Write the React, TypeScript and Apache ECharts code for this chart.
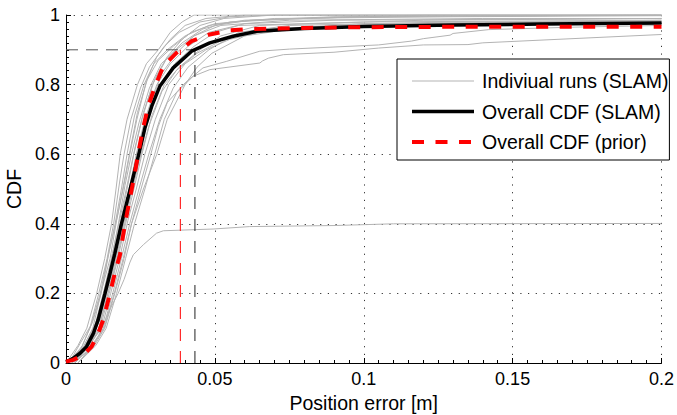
import React, { useEffect, useRef } from "react";
import * as echarts from "echarts";

// ---- axes ----
const xTicks = [0, 0.05, 0.1, 0.15, 0.2];
const yTicks = [0, 0.2, 0.4, 0.6, 0.8, 1];

// ---- overall CDFs ----
const slamX = [0, 0.0024, 0.0047, 0.0069, 0.0092, 0.0108, 0.0131, 0.0148, 0.0164, 0.0186, 0.0208, 0.023, 0.0252, 0.0265, 0.0288, 0.0315, 0.036, 0.0422, 0.0483, 0.0561, 0.064, 0.08, 0.1, 0.13, 0.16, 0.2];
const slamY = [0.003, 0.0135, 0.028, 0.047, 0.085, 0.124, 0.2, 0.258, 0.315, 0.399, 0.474, 0.55, 0.627, 0.675, 0.738, 0.795, 0.848, 0.896, 0.92, 0.939, 0.953, 0.961, 0.967, 0.971, 0.974, 0.977];

const priorX = [0, 0.0024, 0.0058, 0.0086, 0.0108, 0.0125, 0.0148, 0.0164, 0.0181, 0.0198, 0.0215, 0.0232, 0.0248, 0.0259, 0.0276, 0.0299, 0.0327, 0.0371, 0.0422, 0.0483, 0.055, 0.0629, 0.08, 0.1, 0.13, 0.16, 0.2];
const priorY = [0.004, 0.009, 0.023, 0.047, 0.085, 0.124, 0.2, 0.258, 0.31, 0.399, 0.474, 0.55, 0.627, 0.675, 0.738, 0.795, 0.853, 0.891, 0.925, 0.944, 0.956, 0.96, 0.963, 0.965, 0.966, 0.966, 0.966];

// ---- 90% markers ----
const level90 = 0.9;
const slam90 = 0.0433;
const prior90 = 0.0384;

// ---- individual runs (SLAM): [x, y] points ----
const run1 = [[0, 0], [0.004, 0.05], [0.007, 0.1], [0.0103, 0.2], [0.013, 0.3], [0.0153, 0.4], [0.0168, 0.5], [0.0182, 0.6], [0.0205, 0.7], [0.024, 0.8], [0.027, 0.86], [0.031, 0.9], [0.035, 0.95], [0.039, 0.98], [0.043, 1], [0.2, 1]];
const run2 = [[0, 0], [0.005, 0.04], [0.008, 0.1], [0.011, 0.2], [0.0138, 0.3], [0.016, 0.4], [0.018, 0.52], [0.0195, 0.6], [0.0218, 0.7], [0.025, 0.79], [0.028, 0.85], [0.033, 0.91], [0.038, 0.95], [0.045, 0.98], [0.055, 0.995], [0.07, 1], [0.2, 1]];
const run3 = [[0.001, 0], [0.005, 0.06], [0.0085, 0.11], [0.0115, 0.2], [0.0142, 0.31], [0.0165, 0.4], [0.0186, 0.5], [0.0205, 0.6], [0.023, 0.71], [0.0262, 0.8], [0.0295, 0.86], [0.034, 0.9], [0.04, 0.94], [0.048, 0.97], [0.06, 0.985], [0.1, 0.995], [0.2, 1]];
const run4 = [[0.001, 0], [0.006, 0.05], [0.009, 0.1], [0.012, 0.21], [0.0148, 0.3], [0.017, 0.41], [0.0192, 0.5], [0.0212, 0.59], [0.0238, 0.7], [0.027, 0.81], [0.031, 0.87], [0.036, 0.91], [0.042, 0.95], [0.05, 0.975], [0.07, 0.99], [0.13, 0.995], [0.2, 0.998]];
const run5 = [[0.002, 0], [0.006, 0.04], [0.0095, 0.1], [0.0125, 0.2], [0.0153, 0.3], [0.0176, 0.4], [0.0198, 0.51], [0.022, 0.6], [0.0245, 0.69], [0.028, 0.79], [0.032, 0.86], [0.037, 0.9], [0.043, 0.94], [0.052, 0.97], [0.075, 0.985], [0.14, 0.99], [0.2, 0.99]];
const run6 = [[0.002, 0], [0.0065, 0.05], [0.01, 0.1], [0.013, 0.2], [0.0158, 0.3], [0.0182, 0.4], [0.0205, 0.5], [0.0228, 0.6], [0.0255, 0.7], [0.029, 0.8], [0.0335, 0.87], [0.039, 0.92], [0.046, 0.96], [0.055, 0.98], [0.08, 0.99], [0.12, 1], [0.2, 1]];
const run7 = [[0.002, 0], [0.007, 0.05], [0.0105, 0.11], [0.0135, 0.2], [0.0162, 0.29], [0.0188, 0.4], [0.0212, 0.5], [0.0236, 0.6], [0.0265, 0.7], [0.0305, 0.8], [0.035, 0.86], [0.041, 0.91], [0.048, 0.95], [0.06, 0.975], [0.09, 0.985], [0.2, 0.99]];
const run8 = [[0.003, 0], [0.0075, 0.05], [0.011, 0.1], [0.014, 0.2], [0.0168, 0.3], [0.0194, 0.4], [0.022, 0.5], [0.0245, 0.6], [0.0275, 0.7], [0.0318, 0.8], [0.0365, 0.86], [0.043, 0.91], [0.05, 0.95], [0.058, 0.97], [0.1, 0.98], [0.2, 0.985]];
const run9 = [[0.003, 0], [0.008, 0.05], [0.0115, 0.1], [0.0145, 0.2], [0.0174, 0.3], [0.02, 0.4], [0.0228, 0.5], [0.0255, 0.6], [0.0288, 0.71], [0.033, 0.8], [0.038, 0.85], [0.045, 0.9], [0.052, 0.94], [0.065, 0.97], [0.12, 0.985], [0.2, 0.99]];
const run10 = [[0.003, 0], [0.0085, 0.06], [0.012, 0.1], [0.015, 0.2], [0.018, 0.3], [0.0208, 0.41], [0.0236, 0.5], [0.0265, 0.6], [0.03, 0.7], [0.0345, 0.8], [0.04, 0.86], [0.047, 0.9], [0.055, 0.93], [0.07, 0.96], [0.1, 0.975], [0.2, 0.98]];
const run11 = [[0.004, 0], [0.009, 0.05], [0.0125, 0.1], [0.0157, 0.2], [0.0186, 0.3], [0.0214, 0.4], [0.0245, 0.5], [0.0278, 0.6], [0.0315, 0.7], [0.036, 0.79], [0.041, 0.85], [0.048, 0.9], [0.058, 0.95], [0.075, 0.97], [0.13, 0.98], [0.2, 0.98]];
const run12 = [[0.004, 0], [0.0095, 0.05], [0.013, 0.1], [0.0164, 0.2], [0.0195, 0.3], [0.022, 0.4], [0.026, 0.5], [0.0305, 0.6], [0.034, 0.7], [0.04, 0.8], [0.044, 0.85], [0.049, 0.89], [0.06, 0.94], [0.08, 0.965], [0.15, 0.975], [0.2, 0.975]];
const run13 = [[0.001, 0], [0.0055, 0.05], [0.009, 0.12], [0.0118, 0.2], [0.0145, 0.32], [0.0172, 0.42], [0.0195, 0.52], [0.0215, 0.61], [0.024, 0.72], [0.0275, 0.82], [0.0305, 0.88], [0.035, 0.93], [0.04, 0.97], [0.047, 0.99], [0.06, 1], [0.2, 1]];
const run14 = [[0.002, 0], [0.007, 0.06], [0.0102, 0.12], [0.0133, 0.22], [0.016, 0.33], [0.0185, 0.43], [0.021, 0.53], [0.0232, 0.62], [0.026, 0.72], [0.03, 0.82], [0.034, 0.88], [0.039, 0.93], [0.045, 0.97], [0.053, 0.99], [0.07, 1], [0.2, 1]];
const run15 = [[0.003, 0], [0.0078, 0.06], [0.0112, 0.12], [0.0142, 0.22], [0.017, 0.32], [0.0196, 0.42], [0.0222, 0.52], [0.025, 0.62], [0.028, 0.73], [0.032, 0.83], [0.037, 0.89], [0.043, 0.94], [0.05, 0.97], [0.062, 0.985], [0.09, 0.995], [0.2, 1]];
const run16 = [[0.002, 0], [0.0068, 0.04], [0.0108, 0.09], [0.0138, 0.19], [0.0166, 0.28], [0.0192, 0.38], [0.0218, 0.48], [0.0246, 0.58], [0.0278, 0.68], [0.0322, 0.78], [0.037, 0.84], [0.044, 0.89], [0.053, 0.93], [0.068, 0.96], [0.11, 0.975], [0.16, 0.98], [0.2, 0.985]];
const runLow1 = [[0.004, 0], [0.01, 0.05], [0.0135, 0.1], [0.017, 0.2], [0.02, 0.3], [0.023, 0.4], [0.0265, 0.5], [0.0298, 0.6], [0.033, 0.7], [0.0371, 0.776], [0.0427, 0.824], [0.0483, 0.843], [0.0651, 0.862], [0.066, 0.868], [0.068, 0.876], [0.073, 0.886], [0.09, 0.893], [0.105, 0.905], [0.12, 0.914], [0.135, 0.915], [0.14, 0.92], [0.2, 0.944]];
const runLow2 = [[0.003, 0], [0.009, 0.05], [0.0128, 0.1], [0.0162, 0.2], [0.0192, 0.3], [0.022, 0.4], [0.0252, 0.5], [0.0285, 0.6], [0.031, 0.68], [0.034, 0.748], [0.04, 0.805], [0.046, 0.848], [0.054, 0.867], [0.0651, 0.896], [0.075, 0.902], [0.105, 0.914], [0.116, 0.925], [0.12, 0.932], [0.129, 0.942], [0.13, 0.947], [0.142, 0.958], [0.17, 0.965], [0.2, 0.97]];
const runOutlier = [[0.002, 0], [0.007, 0.03], [0.011, 0.08], [0.0145, 0.15], [0.0175, 0.2], [0.0195, 0.24], [0.0215, 0.29], [0.0226, 0.311], [0.026, 0.34], [0.0304, 0.373], [0.0327, 0.38], [0.0494, 0.385], [0.0617, 0.392], [0.09, 0.395], [0.11, 0.4], [0.2, 0.401]];

const individualRuns = [run1, run2, run3, run4, run5, run6, run7, run8, run9, run10, run11, run12, run13, run14, run15, run16, runLow1, runLow2, runOutlier];

const NAME_RUNS = "Indiviual runs (SLAM)";
const NAME_SLAM = "Overall CDF (SLAM)";
const NAME_PRIOR = "Overall CDF (prior)";
const FONT = "'Liberation Sans', Arial, Helvetica, sans-serif";

export default function App() {
  const ref = useRef<HTMLDivElement>(null);
  useEffect(() => {
    document.body.style.margin = "0";
    if (!ref.current) return;
    const chart = echarts.init(ref.current, undefined, { renderer: "svg" });
    const zip = (xs: number[], ys: number[]) => xs.map((x, i) => [x, ys[i]]);
    const grid = { type: [1.2, 6.5], color: "#333", width: 1 };
    const series: any[] = [
      ...individualRuns.map((run) => ({
        name: NAME_RUNS,
        type: "line",
        data: run,
        symbol: "none",
        silent: true,
        z: 2,
        lineStyle: { color: "#b3b3b3", width: 1 },
        itemStyle: { color: "#b3b3b3" },
      })),
      {
        name: "ref-h",
        type: "line",
        data: [[0, level90], [slam90, level90]],
        symbol: "none",
        silent: true,
        z: 3,
        color: "#555555",
        itemStyle: { color: "#555555" },
        lineStyle: { color: "#555555", width: 1, type: [12, 8] },
      },
      {
        name: "ref-slam",
        type: "line",
        data: [[slam90, 0], [slam90, level90]],
        symbol: "none",
        silent: true,
        z: 3,
        color: "#222222",
        itemStyle: { color: "#222222" },
        lineStyle: { color: "#222222", width: 1, type: [12, 10] },
      },
      {
        name: "ref-prior",
        type: "line",
        data: [[prior90, 0], [prior90, level90]],
        symbol: "none",
        silent: true,
        z: 3,
        color: "#ff0000",
        itemStyle: { color: "#ff0000" },
        lineStyle: { color: "#ff0000", width: 1, type: [12, 10] },
      },
      {
        name: NAME_SLAM,
        type: "line",
        data: zip(slamX, slamY),
        symbol: "none",
        z: 4,
        lineStyle: { color: "#000", width: 3.5 },
        itemStyle: { color: "#000" },
      },
      {
        name: NAME_PRIOR,
        type: "line",
        data: zip(priorX, priorY),
        symbol: "none",
        z: 5,
        lineStyle: { color: "#ff0000", width: 4, type: [12, 11.5] },
        itemStyle: { color: "#ff0000" },
      },
    ];
    chart.setOption({
      animation: false,
      backgroundColor: "#fff",
      textStyle: { fontFamily: FONT },
      grid: { left: 66, right: 15.5, top: 15, bottom: 52, containLabel: false, outerBoundsMode: "none" },
      legend: {
        data: [NAME_RUNS, NAME_SLAM, NAME_PRIOR],
        orient: "vertical",
        left: 397,
        top: 59,
        padding: [12, 1, 8, 13],
        itemWidth: 62,
        itemHeight: 20,
        itemGap: 10.5,
        backgroundColor: "#fff",
        borderColor: "#000",
        borderWidth: 1,
        borderRadius: 0,
        z: 10,
        itemStyle: { opacity: 0, borderWidth: 0 },
        lineStyle: { width: "inherit" },
        textStyle: { fontSize: 19.5, color: "#000", fontFamily: FONT, padding: [0, 0, 0, 3] },
      },
      xAxis: {
        type: "value",
        min: xTicks[0],
        max: xTicks[xTicks.length - 1],
        interval: xTicks[1] - xTicks[0],
        name: "Position error [m]",
        nameLocation: "middle",
        nameGap: 26,
        nameTextStyle: { fontSize: 19.5, color: "#000", fontFamily: FONT },
        axisLine: { lineStyle: { color: "#000", width: 1 } },
        axisTick: { inside: true, length: 5, lineStyle: { color: "#000" } },
        minorTick: { show: true, splitNumber: 10, length: 3, lineStyle: { color: "#000" } },
        axisLabel: { fontSize: 18, color: "#000", margin: 7, fontFamily: FONT },
        splitLine: { show: true, lineStyle: grid },
      },
      yAxis: {
        type: "value",
        min: yTicks[0],
        max: yTicks[yTicks.length - 1],
        interval: yTicks[1] - yTicks[0],
        name: "CDF",
        nameLocation: "middle",
        nameGap: 38,
        nameTextStyle: { fontSize: 19.5, color: "#000", fontFamily: FONT },
        axisLine: { show: true, lineStyle: { color: "#000", width: 1 } },
        axisTick: { show: true, inside: true, length: 5, lineStyle: { color: "#000" } },
        minorTick: { show: true, splitNumber: 10, length: 3, lineStyle: { color: "#000" } },
        axisLabel: { fontSize: 18, color: "#000", margin: 6, fontFamily: FONT },
        splitLine: { show: true, lineStyle: grid },
      },
      series,
    });
    return () => chart.dispose();
  }, []);
  return <div ref={ref} style={{ width: 677, height: 415 }} />;
}
